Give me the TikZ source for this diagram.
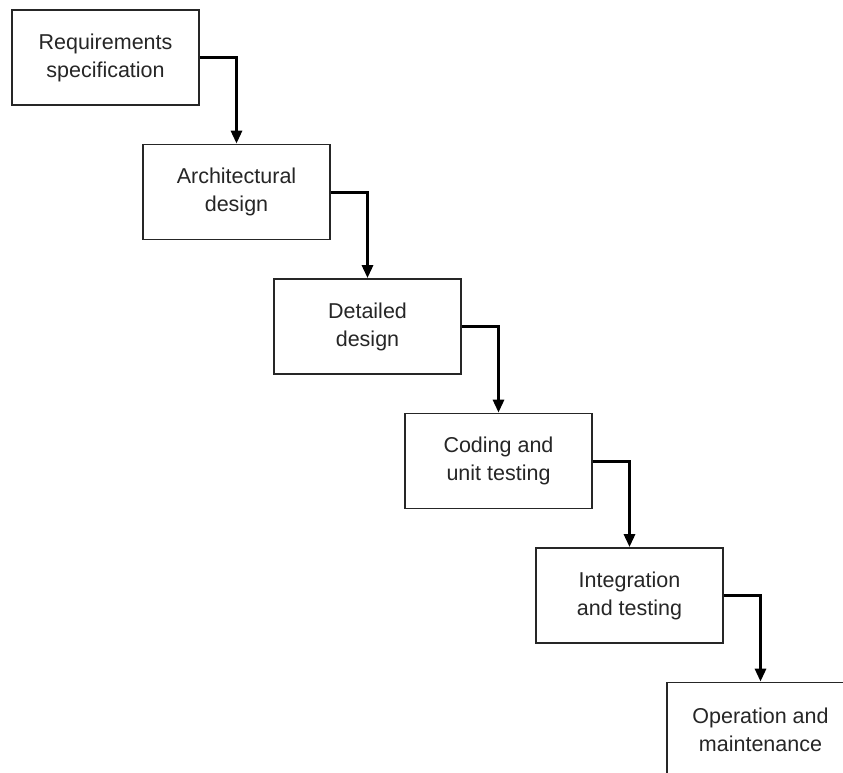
\documentclass[tikz,border=0pt]{standalone}
\usepackage{fontspec}
\setmainfont{Liberation Sans}
\usetikzlibrary{arrows.meta}
\begin{document}
\begin{tikzpicture}[x=1pt,y=-1pt,
  stage/.style={draw=black!85, line width=1.8pt, fill=white, minimum width=187pt, minimum height=95pt,
    align=center, inner sep=0pt, font=\fontsize{21.5}{28}\selectfont, text=black!85},
  flow/.style={line width=3pt, black, -{Triangle[length=13pt,width=11pt]}}]
\useasboundingbox (0,0) rectangle (843,773);
\clip (0,0) rectangle (843,773);
\fill[white] (0,0) rectangle (843,773);
\node[stage] (b1) at (105.5,57.5) {Requirements\\specification};
\node[stage] (b2) at (236.5,192) {Architectural\\design};
\node[stage] (b3) at (367.5,326.5) {Detailed\\design};
\node[stage] (b4) at (498.5,461) {Coding and\\unit testing};
\node[stage] (b5) at (629.5,595.5) {Integration\\and testing};
\node[stage] (b6) at (760.5,730) {Operation and\\maintenance};
\draw[flow] (b1.east) -| (b2.north);
\draw[flow] (b2.east) -| (b3.north);
\draw[flow] (b3.east) -| (b4.north);
\draw[flow] (b4.east) -| (b5.north);
\draw[flow] (b5.east) -| (b6.north);
\end{tikzpicture}
\end{document}
